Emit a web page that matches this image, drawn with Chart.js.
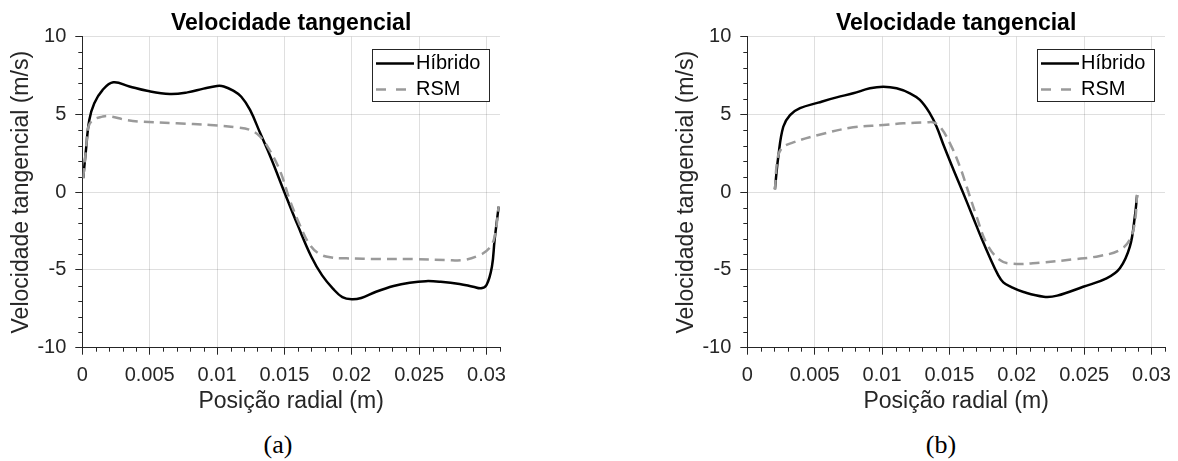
<!DOCTYPE html>
<html>
<head>
<meta charset="utf-8">
<script src="https://cdn.jsdelivr.net/npm/chart.js@4.4.1/dist/chart.umd.min.js"></script>
<style>
  html, body { margin: 0; padding: 0; background: #fff; overflow: hidden; }
  body { width: 1178px; height: 461px; position: relative; }
  canvas { position: absolute; top: 0; }
  #chart-a { left: 0; }
  #chart-b { left: 665px; }
  .caption {
    position: absolute; top: 430px; transform: translateX(-50%);
    font-family: 'Liberation Serif', 'DejaVu Serif', serif; font-size: 26px; color: #000;
  }
</style>
</head>
<body>
<canvas id="chart-a" width="520" height="420"></canvas>
<canvas id="chart-b" width="520" height="420"></canvas>
<div class="caption" style="left:278px">(a)</div>
<div class="caption" style="left:941px">(b)</div>
<script>
// Radial position (m) and tangential velocity (m/s), case (a)
const X_HIB_A = [0.00007, 0.00027, 0.00052, 0.00089, 0.0015, 0.0023, 0.0035, 0.0048, 0.0065, 0.0078, 0.009, 0.01, 0.0105, 0.0112, 0.0118, 0.01245, 0.0132, 0.014, 0.015, 0.016, 0.017, 0.0178, 0.0186, 0.0193, 0.02, 0.0207, 0.0218, 0.0231, 0.0243, 0.0255, 0.0266, 0.028, 0.029, 0.0296, 0.03, 0.0304, 0.0306, 0.0309];
const V_HIB_A = [0.9, 2.7, 4.64, 5.72, 6.57, 7.07, 6.8, 6.52, 6.32, 6.42, 6.66, 6.83, 6.8, 6.53, 6.14, 5.29, 3.8, 2.2, 0.0, -2.15, -4.15, -5.35, -6.2, -6.75, -6.89, -6.8, -6.4, -6.03, -5.82, -5.72, -5.76, -5.9, -6.08, -6.18, -5.97, -4.79, -3.07, -0.93];
const X_RSM_A = [0.00007, 0.0003, 0.00045, 0.0008, 0.0015, 0.0019, 0.0033, 0.0045, 0.007, 0.0095, 0.0115, 0.01245, 0.0132, 0.0139, 0.0147, 0.0154, 0.0162, 0.0169, 0.0176, 0.0184, 0.0196, 0.0221, 0.0246, 0.027, 0.0283, 0.0295, 0.0302, 0.0306, 0.0309];
const V_RSM_A = [0.9, 3.0, 4.2, 4.64, 4.86, 4.9, 4.64, 4.53, 4.43, 4.32, 4.17, 4.0, 3.57, 2.71, 1.32, -0.5, -2.22, -3.4, -3.97, -4.19, -4.25, -4.3, -4.3, -4.36, -4.36, -4.04, -3.61, -2.86, -0.93];

// case (b)
const X_HIB_B = [0.00205, 0.0023, 0.00267, 0.00317, 0.00391, 0.00527, 0.00663, 0.00786, 0.0091, 0.01009, 0.01108, 0.01207, 0.01281, 0.01355, 0.01405, 0.0146, 0.0153, 0.016, 0.0167, 0.0174, 0.018, 0.0186, 0.019, 0.0196, 0.0205, 0.022, 0.023, 0.02493, 0.02666, 0.02765, 0.02839, 0.02876, 0.02893];
const V_HIB_B = [0.2, 2.28, 4.21, 4.96, 5.4, 5.76, 6.1, 6.36, 6.68, 6.78, 6.68, 6.36, 5.93, 5.07, 4.21, 2.95, 1.45, 0.0, -1.5, -3.0, -4.2, -5.3, -5.8, -6.1, -6.42, -6.72, -6.65, -6.08, -5.54, -4.89, -3.5, -1.58, -0.18];
const X_RSM_B = [0.00205, 0.00223, 0.00255, 0.00341, 0.00527, 0.00786, 0.01009, 0.01157, 0.01331, 0.0138, 0.0143, 0.01504, 0.01578, 0.01628, 0.01702, 0.01776, 0.01875, 0.01973, 0.02171, 0.02418, 0.02616, 0.02764, 0.02838, 0.02875, 0.02893];
const V_RSM_B = [0.15, 2.07, 2.82, 3.2, 3.68, 4.17, 4.32, 4.43, 4.49, 4.49, 4.21, 3.14, 1.64, 0.35, -1.57, -3.29, -4.36, -4.6, -4.53, -4.32, -4.1, -3.72, -3.07, -2.0, -0.18];

const SERIES_NAMES = ['Híbrido', 'RSM'];
const X_RANGE = [0, 0.031];
const Y_RANGE = [-10, 10];
const X_MAJOR_STEP = 0.005;
const Y_MAJOR_STEP = 5;

const AXIS = '#262626';
const GRID = 'rgba(38,38,38,0.15)';
const FONT = "'Liberation Sans', Arial, Helvetica, sans-serif";

function isMajor(value, step) {
  const r = value / step;
  return Math.abs(r - Math.round(r)) < 1e-6;
}

function toPoints(xs, ys) {
  return xs.map((x, i) => ({ x, y: ys[i] }));
}

// Chart.js has a single tickLength, so the short minor ticks are added here.
const minorTicks = {
  id: 'minorTicks',
  afterDraw(chart) {
    const { ctx } = chart;
    const xs = chart.scales.x;
    const ys = chart.scales.y;
    ctx.save();
    ctx.strokeStyle = AXIS;
    ctx.lineWidth = 1;
    ctx.beginPath();
    xs.ticks.forEach((t) => {
      if (isMajor(t.value, X_MAJOR_STEP)) return;
      const px = Math.round(xs.getPixelForValue(t.value)) + 0.5;
      ctx.moveTo(px, ys.bottom);
      ctx.lineTo(px, ys.bottom + 4);
    });
    ys.ticks.forEach((t) => {
      if (isMajor(t.value, Y_MAJOR_STEP)) return;
      const py = Math.round(ys.getPixelForValue(t.value)) + 0.5;
      ctx.moveTo(xs.left, py);
      ctx.lineTo(xs.left - 4, py);
    });
    ctx.stroke();
    ctx.restore();
  },
};

// Boxed legend in the top-right corner of the plot area.
const boxedLegend = {
  id: 'boxedLegend',
  afterDraw(chart) {
    const { ctx, chartArea } = chart;
    const w = 117;
    const h = 52;
    const left = Math.round(chartArea.right - 11 - w);
    const top = Math.round(chartArea.top + 12);
    ctx.save();
    ctx.fillStyle = '#fff';
    ctx.fillRect(left, top, w, h);
    ctx.strokeStyle = AXIS;
    ctx.lineWidth = 1;
    ctx.strokeRect(left + 0.5, top + 0.5, w, h);
    ctx.font = `20px ${FONT}`;
    ctx.textBaseline = 'middle';
    chart.data.datasets.forEach((ds, i) => {
      const yy = top + 14.5 + i * 26;
      ctx.strokeStyle = ds.borderColor;
      ctx.lineWidth = ds.borderWidth;
      ctx.setLineDash(ds.borderDash ? [10, 10] : []);
      ctx.beginPath();
      ctx.moveTo(left + 4, yy);
      ctx.lineTo(left + 42, yy);
      ctx.stroke();
      ctx.setLineDash([]);
      ctx.fillStyle = '#000';
      ctx.fillText(ds.label, left + 44, yy);
    });
    ctx.restore();
  },
};

function makeChart(id, hib, rsm) {
  const ctx = document.getElementById(id).getContext('2d');
  return new Chart(ctx, {
    type: 'line',
    data: {
      datasets: [
        {
          label: SERIES_NAMES[0],
          data: hib,
          xAxisID: 'x',
          yAxisID: 'y',
          borderColor: '#000',
          borderWidth: 2.5,
          pointRadius: 0,
          tension: 0.4,
          order: 1,
        },
        {
          label: SERIES_NAMES[1],
          data: rsm,
          xAxisID: 'x',
          yAxisID: 'y',
          borderColor: '#9a9a9a',
          borderWidth: 2.5,
          borderDash: [10, 6],
          pointRadius: 0,
          tension: 0.4,
          order: 0,
        },
      ],
    },
    options: {
      responsive: false,
      animation: false,
      layout: { padding: { left: 0, top: 0, right: 20, bottom: 0 } },
      plugins: { legend: { display: false }, tooltip: { enabled: false } },
      scales: {
        x: {
          type: 'linear',
          position: 'bottom',
          min: X_RANGE[0],
          max: X_RANGE[1],
          border: { display: true, color: AXIS, width: 1 },
          grid: {
            color: (c) => (isMajor(c.tick.value, X_MAJOR_STEP) ? GRID : 'transparent'),
            tickColor: (c) => (isMajor(c.tick.value, X_MAJOR_STEP) ? AXIS : 'transparent'),
            tickLength: 7,
          },
          ticks: {
            stepSize: 0.001,
            includeBounds: false,
            autoSkip: false,
            maxRotation: 0,
            padding: 9,
            color: AXIS,
            font: { family: FONT, size: 20 },
            callback: (v) => (isMajor(v, X_MAJOR_STEP) ? String(+v.toFixed(3)) : ''),
          },
          title: {
            display: true,
            text: 'Posição radial (m)',
            color: AXIS,
            font: { family: FONT, size: 23 },
            padding: { top: 0, bottom: 4.7 },
          },
          afterFit: (s) => { s.height = 72.3; },
        },
        header: {
          axis: 'x',
          type: 'linear',
          position: 'top',
          grid: { display: false, drawTicks: false },
          border: { display: false },
          ticks: { display: false },
          title: {
            display: true,
            text: 'Velocidade tangencial',
            color: '#000',
            font: { family: FONT, size: 23, weight: 'bold' },
            padding: { top: 9.7, bottom: 0 },
          },
          afterFit: (s) => { s.height = 36.7; },
        },
        y: {
          type: 'linear',
          min: Y_RANGE[0],
          max: Y_RANGE[1],
          border: { display: true, color: AXIS, width: 1 },
          grid: {
            color: (c) => (isMajor(c.tick.value, Y_MAJOR_STEP) ? GRID : 'transparent'),
            tickColor: (c) => (isMajor(c.tick.value, Y_MAJOR_STEP) ? AXIS : 'transparent'),
            tickLength: 7,
          },
          ticks: {
            stepSize: 1,
            autoSkip: false,
            padding: 9,
            color: AXIS,
            font: { family: FONT, size: 20 },
            callback: (v) => (isMajor(v, Y_MAJOR_STEP) ? String(v) : ''),
          },
          title: {
            display: true,
            text: 'Velocidade tangencial (m/s)',
            color: AXIS,
            font: { family: FONT, size: 23 },
            padding: { top: 8, bottom: 0 },
          },
          afterFit: (s) => { s.width = 82.3; },
        },
      },
    },
    plugins: [minorTicks, boxedLegend],
  });
}

makeChart('chart-a', toPoints(X_HIB_A, V_HIB_A), toPoints(X_RSM_A, V_RSM_A));
makeChart('chart-b', toPoints(X_HIB_B, V_HIB_B), toPoints(X_RSM_B, V_RSM_B));
</script>
</body>
</html>
